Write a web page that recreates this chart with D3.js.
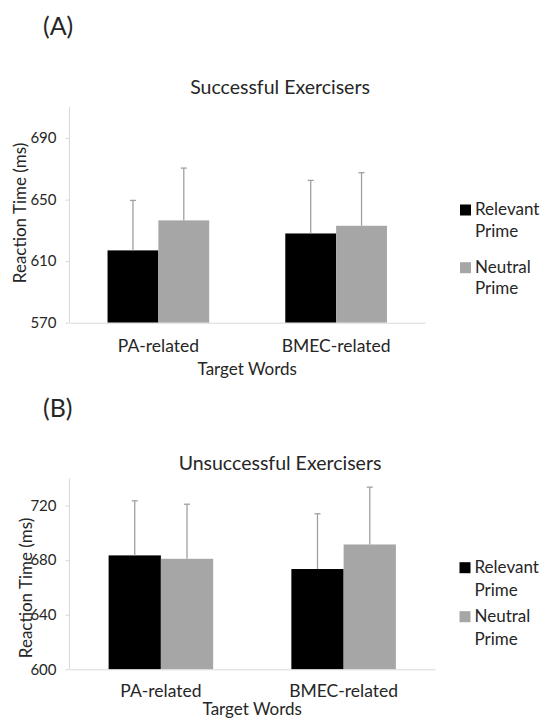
<!DOCTYPE html>
<html>
<head>
<meta charset="utf-8">
<script src="https://cdn.jsdelivr.net/npm/d3@7"></script>
<style>
  body { margin: 0; background: #fff; }
  svg text { font-family: Lato, "Open Sans", sans-serif; fill: #262626; }
</style>
</head>
<body>
<div id="chart"></div>
<script>
// data
var categories = ["PA-related", "BMEC-related"];
var seriesNames = ["Relevant Prime", "Neutral Prime"];
var seriesColors = ["#000000", "#a6a6a6"];

var successRelevant = [617, 628];
var successNeutral = [636.5, 633];
var successRelevantErr = [32.5, 34.5];
var successNeutralErr = [34, 34.5];
var successDomain = [570, 710];
var successTicks = [570, 610, 650, 690];

var unsuccessRelevant = [683.5, 673.5];
var unsuccessNeutral = [681, 691.5];
var unsuccessRelevantErr = [40, 40.5];
var unsuccessNeutralErr = [40, 42];
var unsuccessDomain = [600, 740];
var unsuccessTicks = [600, 640, 680, 720];

var svg = d3.select("#chart")
  .append("svg")
    .attr("width", 547)
    .attr("height", 718)

function drawPanel(p) {
  var g = svg.append("g")

  // panel letter
  g.append("text")
      .attr("x", 43)
      .attr("y", p.letterY)
      .style("font-size", "25px")
      .text(p.letter)

  // title
  g.append("text")
      .attr("text-anchor", "middle")
      .attr("x", 280)
      .attr("y", p.titleY)
      .style("font-size", "19.5px")
      .text(p.title)

  var y = d3.scaleLinear()
    .domain(p.domain)
    .range([p.bottom, p.top])

  var x0 = d3.scaleBand()
    .domain(categories)
    .range([p.left, p.right])
    .paddingInner(0.428)
    .paddingOuter(0.214)

  var x1 = d3.scaleBand()
    .domain(seriesNames)
    .range([0, x0.bandwidth()])

  var rows = [];
  categories.forEach(function (c, i) {
    p.values.forEach(function (vals, s) {
      rows.push({cat: c, series: seriesNames[s], value: vals[i], err: p.errors[s][i], color: seriesColors[s]})
    })
  })

  // Y axis
  var yAxis = g.append("g")
    .attr("transform", "translate(" + p.left + ",0)")
    .call(d3.axisLeft(y).tickValues(p.ticks).tickSize(4).tickPadding(9))
  yAxis.select(".domain").attr("stroke", "#d9d9d9").attr("d", "M0," + p.top + "V" + p.bottom)
  yAxis.selectAll(".tick line").attr("stroke", "#d9d9d9")
  yAxis.selectAll(".tick text")
    .style("font-size", "15px")
    .style("font-family", "Lato, sans-serif")
    .attr("fill", "#262626")

  // bars
  g.append("g")
    .selectAll("rect")
    .data(rows)
    .enter()
    .append("rect")
      .attr("x", function (d) { return x0(d.cat) + x1(d.series); })
      .attr("y", function (d) { return y(d.value); })
      .attr("width", x1.bandwidth())
      .attr("height", function (d) { return y(p.domain[0]) - y(d.value); })
      .style("fill", function (d) { return d.color; })

  // error bars (upper only)
  var eb = g.append("g")
    .selectAll("g")
    .data(rows)
    .enter()
    .append("g")
      .attr("stroke", "#a0a0a0")
      .attr("stroke-width", 1.3)
  eb.append("line")
      .attr("x1", function (d) { return x0(d.cat) + x1(d.series) + x1.bandwidth() / 2; })
      .attr("x2", function (d) { return x0(d.cat) + x1(d.series) + x1.bandwidth() / 2; })
      .attr("y1", function (d) { return y(d.value); })
      .attr("y2", function (d) { return y(d.value + d.err); })
  eb.append("line")
      .attr("x1", function (d) { return x0(d.cat) + x1(d.series) + x1.bandwidth() / 2 - 3; })
      .attr("x2", function (d) { return x0(d.cat) + x1(d.series) + x1.bandwidth() / 2 + 3; })
      .attr("y1", function (d) { return y(d.value + d.err); })
      .attr("y2", function (d) { return y(d.value + d.err); })

  // X axis baseline
  var xAxis = g.append("g")
    .attr("transform", "translate(0," + p.bottom + ")")
    .call(d3.axisBottom(x0).tickSize(0).tickPadding(0))
  xAxis.select(".domain").attr("stroke", "#d9d9d9")
  xAxis.selectAll(".tick text")
    .attr("y", p.catY - p.bottom)
    .attr("dy", 0)
    .style("font-size", "17.5px")
    .style("font-family", "Lato, sans-serif")
    .attr("fill", "#262626")

  // axis titles
  g.append("text")
      .attr("text-anchor", "middle")
      .attr("x", (p.left + p.right) / 2)
      .attr("y", p.xTitleY)
      .style("font-size", "17px")
      .text("Target Words")

  g.append("text")
      .attr("text-anchor", "middle")
      .attr("transform", "translate(" + p.yTitleX + "," + p.yTitleC + ") rotate(-90)")
      .style("font-size", "17px")
      .text("Reaction Time (ms)")

  // legend
  var leg = g.selectAll(".legend")
    .data(seriesNames)
    .enter()
    .append("g")
      .attr("transform", function (d, i) { return "translate(" + p.legendX + "," + p.legendY[i] + ")"; })
  leg.append("rect")
      .attr("x", 0)
      .attr("y", -10.5)
      .attr("width", 11)
      .attr("height", 11)
      .style("fill", function (d, i) { return seriesColors[i]; })
  leg.append("text")
      .attr("x", 15)
      .style("font-size", "17px")
      .selectAll("tspan")
      .data(function (d) { return d.split(" "); })
      .enter()
      .append("tspan")
        .attr("x", 15)
        .attr("dy", function (d, i) { return i === 0 ? 0 : p.legendGap; })
        .text(function (d) { return d; })
}

drawPanel({
  letter: "(A)", letterY: 35,
  title: "Successful Exercisers", titleY: 93.5,
  top: 107.3, bottom: 322.7, left: 69.5, right: 425,
  domain: successDomain, ticks: successTicks,
  values: [successRelevant, successNeutral],
  errors: [successRelevantErr, successNeutralErr],
  catY: 352, xTitleY: 375,
  yTitleX: 26, yTitleC: 213,
  legendX: 460, legendY: [215, 272.7], legendGap: 21.5
})

drawPanel({
  letter: "(B)", letterY: 417,
  title: "Unsuccessful Exercisers", titleY: 470,
  top: 478.3, bottom: 669.3, left: 69.5, right: 435,
  domain: unsuccessDomain, ticks: unsuccessTicks,
  values: [unsuccessRelevant, unsuccessNeutral],
  errors: [unsuccessRelevantErr, unsuccessNeutralErr],
  catY: 697.5, xTitleY: 714.5,
  yTitleX: 32, yTitleC: 588,
  legendX: 459.5, legendY: [572.7, 621.7], legendGap: 23
})
</script>
</body>
</html>
